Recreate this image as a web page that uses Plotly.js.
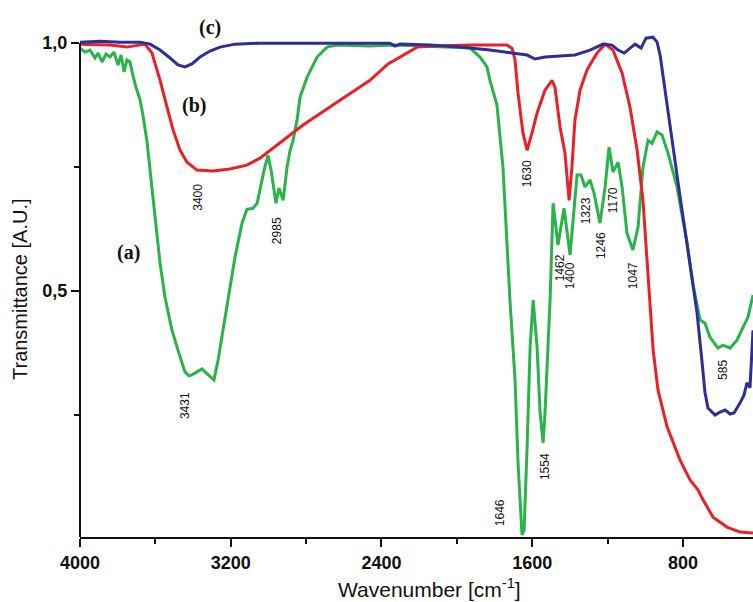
<!DOCTYPE html>
<html>
<head>
<meta charset="utf-8">
<script src="https://cdn.plot.ly/plotly-3.0.1.min.js"></script>
<style>html,body{margin:0;padding:0;background:#fff;}#chart{width:753px;height:602px;}</style>
</head>
<body>
<div id="chart"></div>
<script>
// Series (a) - green
const wnA = [4000,3973,3947,3920,3904,3883,3862,3841,3820,3798,3782,3766,3751,3735,3719,3703,3682,3666,3644,3628,3613,3591,3575,3549,3512,3480,3459,3443,3421,3406,3379,3352,3337,3321,3289,3267,3241,3214,3177,3140,3114,3082,3060,3045,3023,3002,2986,2960,2944,2922,2901,2885,2869,2848,2832,2795,2742,2689,2636,2461,2328,2195,2020,1930,1877,1840,1824,1787,1755,1718,1691,1675,1654,1643,1627,1611,1595,1574,1558,1542,1532,1516,1505,1489,1463,1431,1399,1362,1341,1320,1293,1272,1240,1213,1192,1171,1144,1123,1097,1065,1038,1012,985,964,937,911,879,831,778,746,709,683,656,614,587,550,513,481,454,428];
const tA  = [0.990,0.982,0.986,0.970,0.980,0.962,0.978,0.972,0.982,0.956,0.976,0.942,0.966,0.962,0.935,0.911,0.887,0.855,0.800,0.744,0.690,0.623,0.556,0.488,0.421,0.381,0.355,0.337,0.329,0.331,0.337,0.343,0.337,0.331,0.321,0.361,0.421,0.488,0.569,0.637,0.665,0.667,0.677,0.704,0.744,0.774,0.744,0.677,0.708,0.683,0.750,0.784,0.804,0.845,0.891,0.931,0.972,0.992,0.996,0.994,0.996,0.994,0.992,0.990,0.972,0.952,0.925,0.875,0.750,0.482,0.321,0.153,0.008,0.018,0.185,0.387,0.482,0.387,0.254,0.194,0.254,0.387,0.482,0.677,0.593,0.667,0.573,0.734,0.734,0.710,0.724,0.698,0.637,0.710,0.790,0.740,0.760,0.710,0.617,0.583,0.629,0.750,0.804,0.798,0.821,0.815,0.778,0.710,0.597,0.512,0.442,0.435,0.407,0.385,0.391,0.385,0.401,0.427,0.448,0.492];

// Series (b) - red
const wnB = [4000,3841,3751,3692,3655,3618,3575,3538,3506,3469,3432,3379,3294,3204,3114,3045,2938,2816,2636,2461,2365,2286,2211,2105,1930,1733,1707,1691,1675,1649,1627,1601,1574,1532,1495,1479,1452,1426,1404,1389,1373,1346,1309,1256,1213,1171,1123,1081,1043,1012,974,958,932,884,815,762,720,693,640,566,497,428];
const tB  = [0.998,0.996,0.992,0.996,0.998,0.980,0.925,0.871,0.825,0.784,0.760,0.744,0.742,0.746,0.754,0.768,0.800,0.835,0.881,0.925,0.958,0.976,0.992,0.994,0.996,0.996,0.990,0.966,0.899,0.819,0.784,0.819,0.859,0.905,0.925,0.911,0.831,0.778,0.683,0.750,0.845,0.905,0.946,0.980,0.998,0.986,0.940,0.871,0.784,0.683,0.482,0.381,0.300,0.226,0.159,0.119,0.099,0.079,0.044,0.024,0.014,0.012];

// Series (c) - blue
const wnC = [4000,3894,3788,3682,3628,3575,3522,3480,3443,3406,3363,3310,3257,3177,3045,2832,2567,2355,2328,2301,2142,1983,1824,1718,1627,1585,1532,1452,1373,1293,1224,1176,1144,1112,1081,1054,1022,996,959,937,921,895,868,842,815,789,762,725,698,683,667,629,603,576,550,529,497,476,460,444,428];
const tC  = [1.002,1.004,1.002,1.002,0.998,0.986,0.970,0.956,0.952,0.958,0.972,0.984,0.992,0.998,1.000,1.000,1.000,1.000,0.994,0.998,0.996,0.992,0.986,0.980,0.976,0.968,0.972,0.974,0.976,0.986,0.998,0.996,0.986,0.980,0.990,0.998,0.990,1.010,1.012,1.002,0.976,0.905,0.825,0.758,0.690,0.623,0.556,0.456,0.355,0.296,0.264,0.250,0.256,0.260,0.252,0.254,0.274,0.290,0.315,0.305,0.421];

// Axis ticks
const xTickVals = [4000,3200,2400,1600,800];
const xTickText = ["4000","3200","2400","1600","800"];
const xMinorVals = [3600,2800,2000,1200];
const yTickVals = [0.5,1.0];
const yTickText = ["0,5","1,0"];
const yMinorVals = [0.25,0.75];

// Peak labels
const peakText = ["3400","3431","2985","1630","1462","1400","1323","1246","1170","1047","1646","1554","585"];
const peakX    = [3374,3443,2954,1627,1452,1399,1314,1234,1171,1065,1771,1532,587];
const peakY    = [0.690,0.270,0.621,0.736,0.546,0.530,0.661,0.591,0.683,0.532,0.054,0.145,0.341];

// Curve labels
const curveText = ["(a)","(b)","(c)"];
const curveX = [3745,3395,3310];
const curveY = [0.577,0.875,1.032];

const traces = [
  {x: wnA, y: tA, mode: 'lines', line: {color: '#29b34a', width: 3}, name: '(a)'},
  {x: wnB, y: tB, mode: 'lines', line: {color: '#ea2028', width: 3}, name: '(b)'},
  {x: wnC, y: tC, mode: 'lines', line: {color: '#2b2f96', width: 3}, name: '(c)'}
];

const annotations = [];
peakText.forEach((t, i) => annotations.push({
  x: peakX[i], y: peakY[i], xref: 'x', yref: 'y', text: t, showarrow: false,
  textangle: -90, font: {family: 'Liberation Sans, Arial, sans-serif', size: 12, color: '#111'}
}));
curveText.forEach((t, i) => annotations.push({
  x: curveX[i], y: curveY[i], xref: 'x', yref: 'y', text: t, showarrow: false,
  font: {family: 'Liberation Serif, Times New Roman, serif', size: 20, color: '#111', weight: 'bold'}
}));
annotations.push({
  x: 0.52, y: -0.095, xref: 'paper', yref: 'paper', text: 'Wavenumber [cm<sup>-1</sup>]',
  showarrow: false, yanchor: 'middle',
  font: {family: 'Liberation Sans, Arial, sans-serif', size: 21, color: '#111'}
});
annotations.push({
  x: -0.089, y: 0.462, xref: 'paper', yref: 'paper', text: 'Transmittance [A.U.]',
  showarrow: false, textangle: -90, xanchor: 'center', yanchor: 'middle',
  font: {family: 'Liberation Sans, Arial, sans-serif', size: 20, color: '#111'}
});

const tickFont = {family: 'Liberation Sans, Arial, sans-serif', size: 18, color: '#111', weight: 'bold'};

const layout = {
  width: 753, height: 602,
  margin: {l: 80, r: 0, t: 0, b: 65},
  paper_bgcolor: '#fff', plot_bgcolor: '#fff',
  showlegend: false,
  xaxis: {
    range: [4000, 428], tickmode: 'array', tickvals: xTickVals, ticktext: xTickText,
    ticks: 'outside', ticklen: 8, tickwidth: 2, tickcolor: '#111',
    showline: true, linewidth: 2, linecolor: '#111', showgrid: false, zeroline: false,
    tickfont: tickFont,
    minor: {tickmode: 'array', tickvals: xMinorVals, ticks: 'outside', ticklen: 5, tickwidth: 2, tickcolor: '#111', showgrid: false}
  },
  yaxis: {
    range: [0.004, 1.087], tickmode: 'array', tickvals: yTickVals, ticktext: yTickText,
    ticks: 'outside', ticklen: 8, tickwidth: 2, tickcolor: '#111',
    showline: false, showgrid: false, zeroline: false,
    tickfont: tickFont,
    minor: {tickmode: 'array', tickvals: yMinorVals, ticks: 'outside', ticklen: 5, tickwidth: 2, tickcolor: '#111', showgrid: false}
  },
  shapes: [{type: 'line', xref: 'paper', x0: 0, x1: 0, yref: 'y', y0: 0.004, y1: 1.0, line: {color: '#111', width: 2}}],
  annotations: annotations
};

Plotly.newPlot('chart', traces, layout, {staticPlot: true, displayModeBar: false});
</script>
</body>
</html>
